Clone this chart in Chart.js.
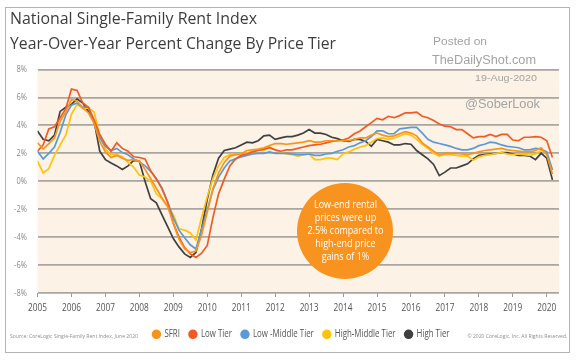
<!DOCTYPE html>
<html><head><meta charset="utf-8">
<script src="https://cdn.jsdelivr.net/npm/chart.js@4.4.1/dist/chart.umd.min.js"></script>
<style>
html,body{margin:0;padding:0;background:#fff;}
#wrap{position:relative;width:582px;height:360px;overflow:hidden;background:#fff;}
#frame{position:absolute;left:5.25px;top:7px;width:564.5px;height:345.5px;border:1.5px solid #b5b5b5;box-sizing:border-box;}
canvas{position:absolute;left:0;top:0;}
.t{position:absolute;white-space:nowrap;line-height:1;}
.title{font-family:"Open Sans",sans-serif;font-size:17px;color:#3d3d3d;transform-origin:left center;left:10px;}
.wm{font-family:"Liberation Sans",Arial,sans-serif;color:#a3a3a3;transform-origin:left center;}
.small{font-family:"Open Sans",sans-serif;font-size:6px;color:#8e8e8e;}
#circle{position:absolute;left:297px;top:182.5px;width:96px;height:96px;border-radius:50%;background:#f7931e;display:flex;align-items:center;justify-content:center;}
#ctext{font-family:"Open Sans",sans-serif;font-size:10.5px;line-height:13px;color:#fff;text-align:center;white-space:nowrap;display:inline-block;transform-origin:center center;margin-top:-1px;}
</style></head>
<body>
<div id="wrap">
  <div id="frame"></div>
  <canvas id="c" width="582" height="360"></canvas>
  <div class="t title" style="top:9px" data-w="247">National Single-Family Rent Index</div>
  <div class="t title" style="top:33.5px" data-w="326">Year-Over-Year Percent Change By Price Tier</div>
  <div class="t wm" style="left:433px;top:36px;font-size:11.5px" data-w="54">Posted on</div>
  <div class="t wm" style="left:432px;top:54px;font-size:12.5px" data-w="104">TheDailyShot.com</div>
  <div class="t wm" style="left:475px;top:72.5px;font-size:9.5px" data-w="62">19-Aug-2020</div>
  <div class="t wm" style="left:465px;top:98px;font-size:12.5px" data-w="75">@SoberLook</div>
  <div id="circle"><div id="ctext" data-w="76">Low-end rental<br>prices were up<br>2.5% compared to<br>high-end price<br>gains of 1%</div></div>
  <div class="t small" style="left:10px;top:333px;transform-origin:left center" data-w="128">Source: CoreLogic Single-Family Rent Index, June 2020</div>
  <div class="t small" style="right:15px;top:333px;transform-origin:right center" data-w="100">© 2020 CoreLogic, Inc. All Rights Reserved.</div>
</div>
<script>
// ---- data (every 2 months from Jan 2005) ----
const seriesNames = ['SFRI', 'Low Tier', 'Low -Middle Tier', 'High-Middle Tier', 'High Tier'];
const seriesColors = ['#f7941d', '#f15a24', '#5b9bd5', '#ffc20e', '#404040'];
const sfri = [
 2.75, 2.3, 2.7, 3.1, 4.3, 4.95,
 5.85, 5.75, 5.25, 4.9, 4.15, 2.85,
 2.1, 1.7, 1.85, 1.65, 1.5, 1.55,
 1.45, 0.85, 0.2, -0.5, -1.2, -1.8,
 -3.0, -4.15, -4.85, -5.1, -5.0, -3.85,
 -2.2, -0.55, 0.6, 1.35, 1.8, 1.9,
 1.95, 2.2, 2.25, 2.3, 2.4, 2.55,
 2.7, 2.7, 2.65, 2.7, 2.75, 2.8,
 2.9, 2.8, 2.8, 2.9, 2.9, 2.9,
 2.9, 2.9, 3.0, 3.1, 3.1, 3.3,
 3.45, 3.3, 3.2, 3.25, 3.4, 3.55,
 3.45, 3.25, 2.75, 2.45, 2.15, 1.9,
 2.0, 2.0, 2.0, 1.95, 1.9, 2.0,
 2.1, 2.2, 2.25, 2.3, 2.35, 2.25,
 2.2, 2.15, 2.1, 2.1, 2.2, 2.4,
 1.9, 0.5];
const lowTier = [
 2.15, 2.6, 3.75, 3.9, 4.55, 5.2,
 6.6, 6.5, 5.6, 5.3, 4.4, 3.35,
 2.65, 2.15, 2.75, 2.35, 2.15, 1.75,
 1.7, 1.6, 0.75, 0.15, -0.55, -1.5,
 -3.0, -4.0, -4.75, -5.2, -5.45, -5.15,
 -4.6, -2.6, -0.9, 0.15, 1.1, 1.6,
 1.85, 1.95, 2.1, 2.2, 2.3, 2.4,
 2.25, 2.15, 2.25, 2.25, 2.35, 2.45,
 2.55, 2.6, 2.65, 2.75, 2.85, 2.9,
 2.95, 3.1, 3.4, 3.6, 3.9, 4.2,
 4.5, 4.4, 4.65, 4.55, 4.7, 4.9,
 4.9, 4.95, 4.65, 4.55, 4.35, 4.1,
 3.95, 3.9, 3.7, 3.7, 3.4, 3.1,
 3.2, 3.2, 3.35, 3.2, 3.35, 3.35,
 2.95, 2.9, 3.15, 3.15, 3.2, 3.15,
 2.9, 1.7];
const lowMiddleTier = [
 2.15, 1.6, 2.0, 2.45, 3.5, 4.75,
 5.45, 5.6, 5.3, 5.3, 4.2, 3.1,
 2.5, 2.2, 2.35, 2.05, 1.9, 1.6,
 1.4, 1.1, 0.7, 0.2, -0.5, -1.5,
 -2.6, -3.5, -4.05, -4.55, -4.85, -3.45,
 -2.05, -0.6, 0.3, 0.95, 1.45, 1.6,
 1.75, 1.85, 1.95, 2.0, 2.0, 2.1,
 2.0, 2.0, 2.0, 1.95, 1.9, 1.9,
 1.95, 1.85, 1.85, 1.95, 2.0, 2.15,
 2.25, 2.45, 2.55, 2.75, 2.9, 3.2,
 3.6, 3.6, 3.4, 3.4, 3.75, 3.8,
 3.85, 3.85, 3.45, 3.0, 2.8, 2.7,
 2.6, 2.5, 2.35, 2.25, 2.25, 2.35,
 2.55, 2.65, 2.8, 2.75, 2.6, 2.5,
 2.45, 2.4, 2.25, 2.25, 2.35, 2.3,
 2.1, 0.8];
const highMiddleTier = [
 1.45, 0.6, 0.9, 1.85, 2.6, 3.3,
 4.8, 5.5, 5.2, 5.25, 4.95, 3.3,
 2.3, 1.9, 1.9, 1.75, 1.35, 1.0,
 0.45, 0.3, 0.0, -0.9, -1.25, -1.85,
 -2.4, -3.4, -3.5, -3.7, -4.2, -2.6,
 -1.1, 0.2, 1.1, 1.7, 1.9, 1.9,
 2.0, 2.0, 2.15, 2.25, 2.2, 2.45,
 2.25, 2.05, 1.95, 1.9, 1.8, 1.9,
 1.95, 1.55, 1.55, 1.65, 1.65, 1.55,
 1.95, 2.1, 2.3, 2.45, 2.55, 2.8,
 3.05, 3.1, 3.0, 3.1, 3.25, 3.4,
 3.3, 3.0, 2.65, 2.35, 2.0, 1.8,
 1.9, 1.9, 1.85, 1.8, 1.8, 1.5,
 1.75, 1.85, 1.9, 2.0, 2.05, 1.95,
 1.9, 1.95, 1.9, 1.85, 1.95, 2.2,
 2.0, 0.8];
const highTier = [
 3.6, 3.0, 2.9, 3.3, 5.0, 5.3,
 5.5, 5.9, 5.6, 5.0, 4.3, 2.15,
 1.55, 1.3, 1.1, 0.85, 1.1, 1.5,
 1.45, 0.0, -1.25, -1.55, -2.4, -3.25,
 -4.1, -4.7, -5.2, -5.45, -5.1, -3.4,
 -1.3, 0.45, 1.65, 2.2, 2.3, 2.4,
 2.6, 2.8, 2.75, 2.9, 3.25, 3.3,
 3.0, 3.1, 3.2, 3.2, 3.3, 3.45,
 3.7, 3.45, 3.45, 3.35, 3.15, 3.05,
 2.9, 2.85, 3.0, 3.0, 2.85, 2.5,
 3.0, 2.9, 2.8, 2.6, 2.6, 2.7,
 2.65, 2.2, 1.9, 1.6, 1.2, 0.4,
 0.65, 0.95, 0.95, 1.1, 1.25, 1.6,
 1.85, 1.9, 1.95, 2.0, 2.05, 2.05,
 1.95, 1.85, 1.85, 1.8, 1.55, 2.0,
 1.65, 0.1];
const yearTicks = [2005,2006,2007,2008,2009,2010,2011,2012,2013,2014,2015,2016,2017,2018,2019,2020];
const percentTicks = [-8,-6,-4,-2,0,2,4,6,8];

// period positions (decimal years), one every 2 months starting Jan 2005
const periods = sfri.map((_, i) => 2005 + (i * 2) / 12);
const allSeries = [sfri, lowTier, lowMiddleTier, highMiddleTier, highTier];

// condensed rendering of chart text (reference uses a narrow typeface)
const TEXT_SX = 0.79;
const canvas = document.getElementById('c');
const g = canvas.getContext('2d');
const origFill = g.fillText.bind(g);
const origMeasure = g.measureText.bind(g);
g.fillText = function(t, x, y, mw){
  this.save(); this.translate(x, y); this.scale(TEXT_SX, 1);
  if (mw === undefined || mw === null) origFill(t, 0, 0); else origFill(t, 0, 0, mw / TEXT_SX);
  this.restore();
};
g.measureText = function(t){
  const m = origMeasure(t);
  return {width: m.width * TEXT_SX,
    actualBoundingBoxAscent: m.actualBoundingBoxAscent, actualBoundingBoxDescent: m.actualBoundingBoxDescent,
    actualBoundingBoxLeft: m.actualBoundingBoxLeft * TEXT_SX, actualBoundingBoxRight: m.actualBoundingBoxRight * TEXT_SX,
    fontBoundingBoxAscent: m.fontBoundingBoxAscent, fontBoundingBoxDescent: m.fontBoundingBoxDescent};
};
const chartFont = '"Open Sans", sans-serif';

const bgPlugin = {id:'bg', beforeDraw(c){
  const a=c.chartArea, x=c.ctx; x.save(); x.fillStyle='#fdf2e6';
  x.fillRect(a.left,a.top,a.right-a.left,a.bottom-a.top); x.restore();
}};
const legendShift = {id:'legendShift', afterLayout(c){
  const l=c.legend; if(l){ l.left += 22; l.right += 22; }
}};

new Chart(g, {
  type:'line',
  data:{datasets: allSeries.map((vals, si) => ({
    label: seriesNames[si],
    data: vals.map((v,i)=>({x:periods[i], y:v})),
    borderColor: seriesColors[si], backgroundColor: seriesColors[si],
    borderWidth:1.7, pointRadius:0, tension:0, fill:false
  }))},
  options:{
    responsive:false, animation:false, devicePixelRatio:1,
    layout:{padding:{top:69.5,right:23,left:0,bottom:10.7}},
    scales:{
      x:{type:'linear', min:2005, max:2020.36,
        afterBuildTicks:s=>{ s.ticks = yearTicks.map(v=>({value:v})); },
        grid:{display:true, drawOnChartArea:false, drawTicks:true, tickLength:4, color:'#9a9a9a', tickColor:'#9a9a9a', lineWidth:1},
        border:{display:false},
        ticks:{padding:5, color:'#555', font:{family:chartFont,size:10.5}, maxRotation:0, autoSkip:false, callback:v=>String(v)},
        afterFit:s=>{ s.height = 26.3; }
      },
      y:{min:-8, max:8,
        afterBuildTicks:s=>{ s.ticks = percentTicks.map(v=>({value:v})); },
        grid:{color:'#a9a5a1', lineWidth:1.8, drawTicks:false},
        border:{display:false},
        ticks:{padding:10.5, color:'#8a8a8a', font:{family:chartFont,size:9.5}, callback:v=>v+'%'},
        afterFit:s=>{ s.width = 37.5; }
      }
    },
    plugins:{
      legend:{position:'bottom', labels:{usePointStyle:true, pointStyle:'circle', boxWidth:6, boxHeight:5.5, padding:10, color:'#555', font:{family:chartFont,size:10}}},
      tooltip:{enabled:false}
    }
  },
  plugins:[bgPlugin, legendShift]
});

function fitTexts(){
  document.querySelectorAll('[data-w]').forEach(el=>{
    el.style.transform='none';
    const w = el.getBoundingClientRect().width;
    const s = (+el.dataset.w)/w;
    el.style.transform = 'scaleX('+s+')';
  });
}
fitTexts();
if (document.fonts && document.fonts.ready) document.fonts.ready.then(fitTexts);
</script>
</body></html>
